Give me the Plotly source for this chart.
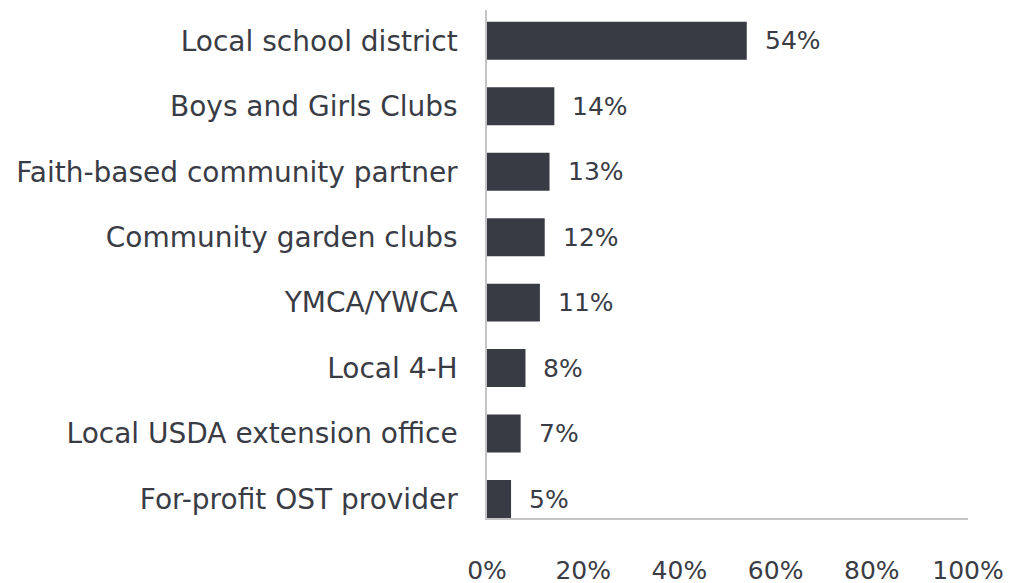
import plotly.graph_objects as go

# bottom-to-top order so the first item sits at the top of the chart
partners = [
    "For-profit OST provider",
    "Local USDA extension office",
    "Local 4-H",
    "YMCA/YWCA",
    "Community garden clubs",
    "Faith-based community partner",
    "Boys and Girls Clubs",
    "Local school district",
]
shares = [5, 7, 8, 11, 12, 13, 14, 54]
x_ticks = [0, 20, 40, 60, 80, 100]
x_tick_labels = ["0%", "20%", "40%", "60%", "80%", "100%"]

BAR = "#383b44"
TEXT = "#3a3c45"
AXIS = "#c4c4c4"
FONT = "DejaVu Sans"

fig = go.Figure(
    go.Bar(
        x=shares,
        y=partners,
        orientation="h",
        marker=dict(color=BAR, line=dict(width=0)),
        width=0.58,
        hoverinfo="skip",
    )
)

for p, v in zip(partners, shares):
    fig.add_annotation(
        x=v, y=p, text=f"{v}%", showarrow=False,
        xanchor="left", xshift=16,
        font=dict(family=FONT, size=25, color=TEXT),
    )

fig.update_xaxes(
    range=[0, 100],
    tickvals=x_ticks,
    ticktext=x_tick_labels,
    showgrid=False,
    zeroline=False,
    showline=True,
    linecolor=AXIS,
    linewidth=1.5,
    ticks="",
    ticklabelstandoff=29,
    automargin=False,
    tickfont=dict(family=FONT, size=25, color=TEXT),
)
fig.update_yaxes(
    range=[-0.29, 7.47],
    showgrid=False,
    zeroline=False,
    showline=True,
    linecolor=AXIS,
    linewidth=1.5,
    ticks="",
    ticklabelstandoff=22,
    automargin=False,
    tickfont=dict(family=FONT, size=28, color=TEXT),
)

# page body has an 8px margin, so the margins are offset to land the plot
# area where the reference has it
fig.update_layout(
    width=1011,
    height=583,
    margin=dict(l=479, r=51, t=2, b=73),
    plot_bgcolor="white",
    paper_bgcolor="white",
    showlegend=False,
)

fig.write_html("out.html")
